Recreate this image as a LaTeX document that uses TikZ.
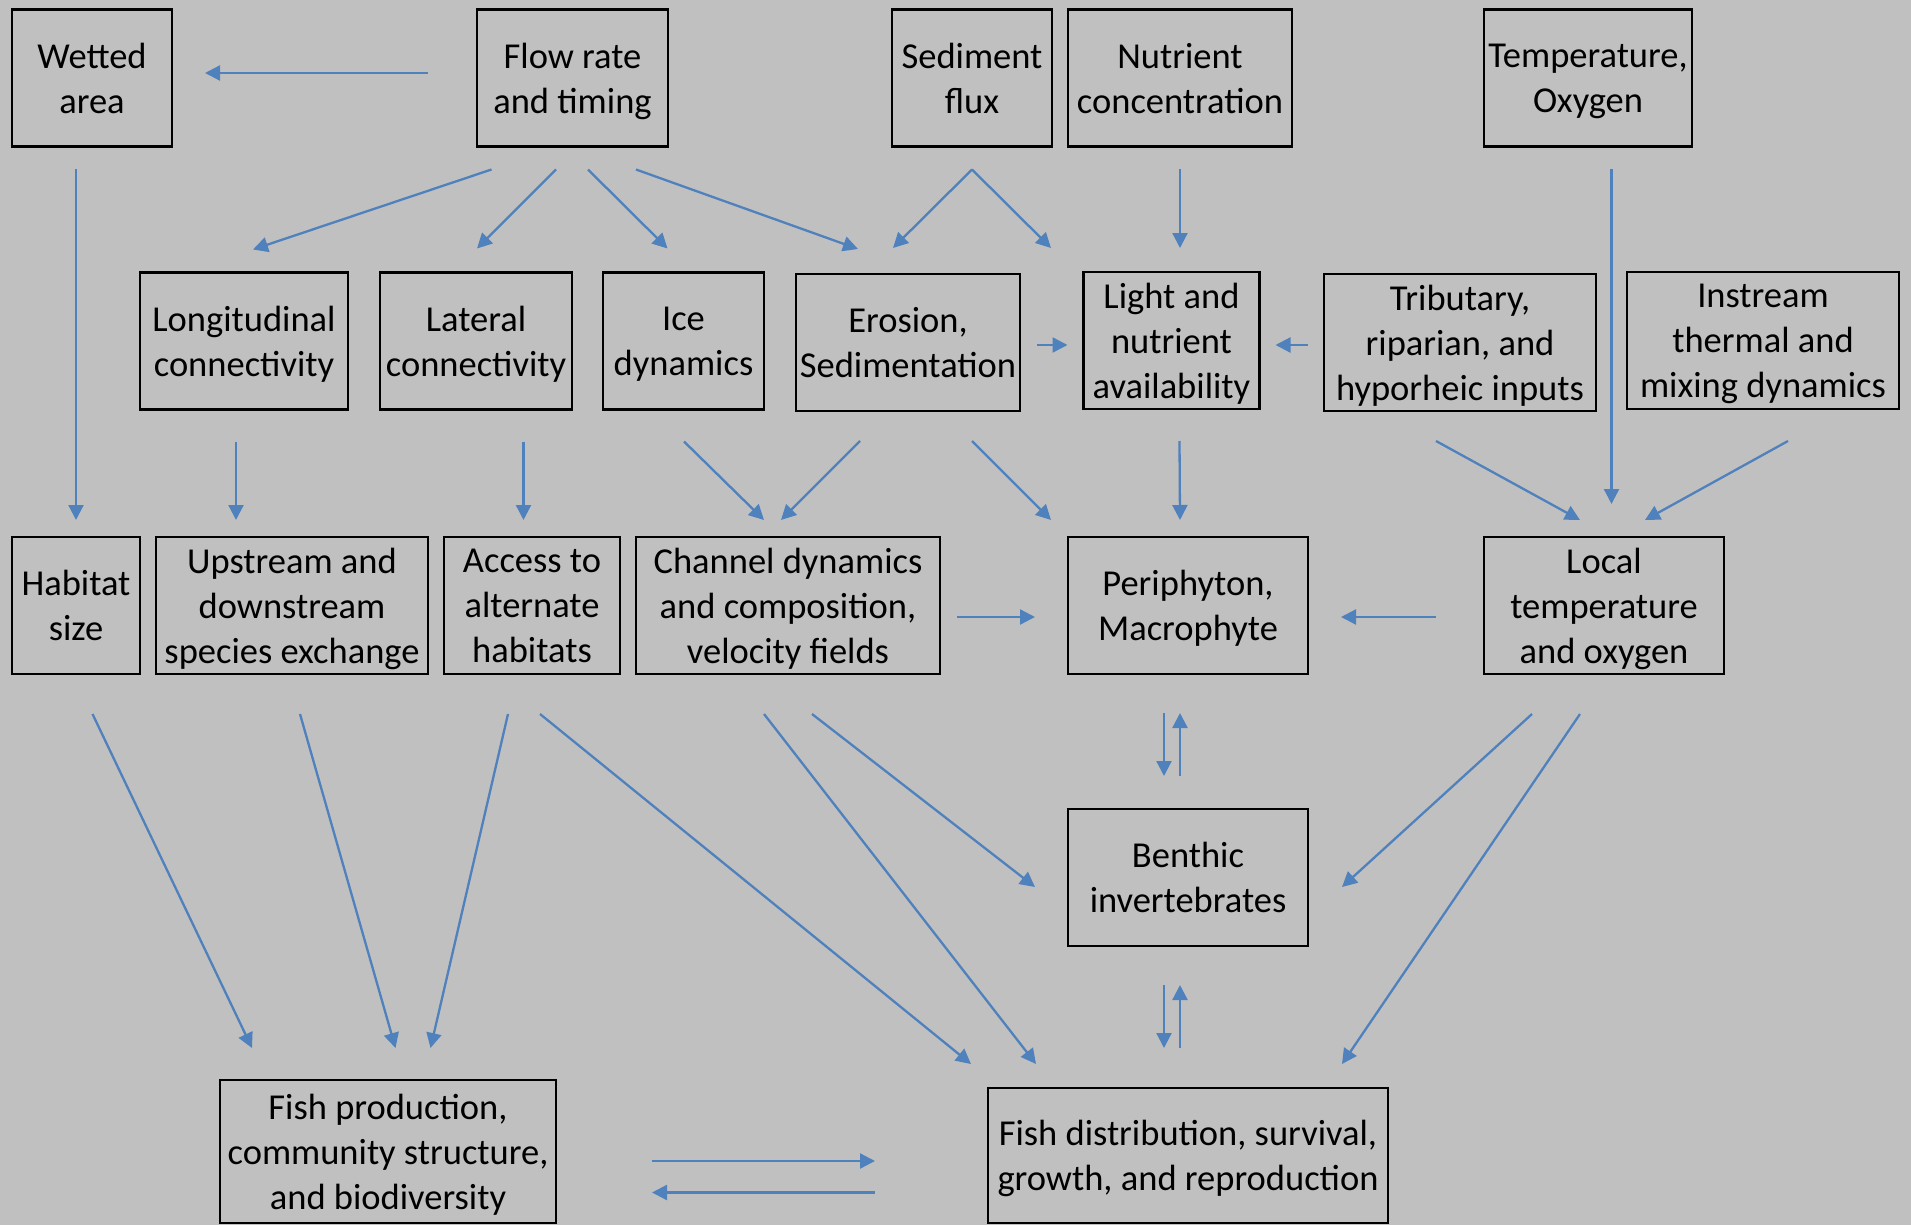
\documentclass[tikz,border=0pt]{standalone}
\usepackage{fontspec}
\setmainfont{Carlito}
\usepackage{xcolor}
\usetikzlibrary{arrows.meta}

\definecolor{bggray}{RGB}{192,192,192}
\definecolor{arrblue}{RGB}{79,129,189}

\begin{document}
\begin{tikzpicture}[x=1pt,y=-1pt,
    box/.style={draw=black,line width=2.5pt,rectangle,inner sep=0pt,outer sep=0pt,
      align=center,text depth=0pt,minimum height=137pt,font=\fontsize{36.5}{45}\selectfont},
    arr/.style={draw=arrblue,line width=2.3pt,-{Triangle[length=15pt,width=15pt]}}]
    % background
    \fill[bggray] (0,0) rectangle (1911,1225);
    \useasboundingbox (0,0) rectangle (1911,1225);

    % Top row
    \node[box,minimum width=160pt] (wetted) at (92,78) {Wetted\\area};
    \node[box,minimum width=191pt] (flow) at (572.5,78) {Flow rate\\and timing};
    \node[box,minimum width=160pt] (sediment) at (972,78) {Sediment\\flux};
    \node[box,minimum width=224pt] (nutrient) at (1180,78) {Nutrient\\concentration};
    \node[box,minimum width=208pt] (tempox) at (1588,78) {Temperature,\\Oxygen};

    % Second row
    \node[box,minimum width=208pt] (longi) at (244,341) {Longitudinal\\connectivity};
    \node[box,minimum width=192pt] (lateral) at (476,341) {Lateral\\connectivity};
    \node[box,minimum width=161pt] (ice) at (683.5,341) {Ice\\dynamics};
    \node[box,minimum width=224pt] (erosion) at (908,342.5) {Erosion,\\Sedimentation};
    \node[box,minimum width=176pt] (light) at (1171.5,340.5) {Light and\\nutrient\\availability};
    \node[box,minimum width=272pt] (trib) at (1460,342.5) {Tributary,\\riparian, and\\hyporheic inputs};
    \node[box,minimum width=272pt] (instream) at (1763,340.5) {Instream\\thermal and\\mixing dynamics};

    % Third row
    \node[box,minimum width=128pt] (habitat) at (76,605.5) {Habitat\\size};
    \node[box,minimum width=272pt] (upstream) at (292,605.5) {Upstream and\\downstream\\species exchange};
    \node[box,minimum width=176pt] (access) at (532,605.5) {Access to\\alternate\\habitats};
    \node[box,minimum width=304pt] (channel) at (788,605.5) {Channel dynamics\\and composition,\\velocity fields};
    \node[box,minimum width=240pt] (periph) at (1188,605.5) {Periphyton,\\Macrophyte};
    \node[box,minimum width=240pt] (local) at (1604,605.5) {Local\\temperature\\and oxygen};

    % Benthos and fish
    \node[box,minimum width=240pt] (benthic) at (1188,877.5) {Benthic\\invertebrates};
    \node[box,minimum width=336pt,minimum height=143pt] (fishprod) at (388,1151.5) {Fish production,\\community structure,\\and biodiversity};
    \node[box,minimum width=400pt,minimum height=135pt] (fishdist) at (1188,1155.5) {Fish distribution, survival,\\growth, and reproduction};

    % From the top row
    \draw[arr] ([shift={(-49,-5)}]flow.west) -- ([shift={(33,-5)}]wetted.east);
    \draw[arr] ([shift={(-16,23)}]wetted.south) -- ([shift={(0,-17)}]habitat.north);
    \draw[arr] ([shift={(-81,23)}]flow.south) -- ([shift={(9,-23)}]longi.north);
    \draw[arr] ([shift={(-16.5,23)}]flow.south) -- ([shift={(1,-24)}]lateral.north);
    \draw[arr] ([shift={(15.5,23)}]flow.south) -- ([shift={(-16,-24)}]ice.north);
    \draw[arr] ([shift={(63.5,23)}]flow.south) -- ([shift={(-50,-25)}]erosion.north);
    \draw[arr] ([shift={(0,23)}]sediment.south) -- ([shift={(-15,-26)}]erosion.north);
    \draw[arr] ([shift={(0,23)}]sediment.south) -- ([shift={(-120.5,-24)}]light.north);
    \draw[arr] ([shift={(0,23)}]nutrient.south) -- ([shift={(8.5,-24)}]light.north);
    \draw[arr] ([shift={(23.5,23)}]tempox.south) -- ([shift={(7.5,-33)}]local.north);

    % Within the second row
    \draw[arr] ([shift={(17,2.5)}]erosion.east) -- ([shift={(-16,4.5)}]light.west);
    \draw[arr] ([shift={(-16,2.5)}]trib.west) -- ([shift={(16,4.5)}]light.east);

    % Second row to third row
    \draw[arr] ([shift={(-8,32)}]longi.south) -- ([shift={(-56,-17)}]upstream.north);
    \draw[arr] ([shift={(47.5,32)}]lateral.south) -- ([shift={(-8.5,-17)}]access.north);
    \draw[arr] ([shift={(0.5,32)}]ice.south) -- ([shift={(-24,-17)}]channel.north);
    \draw[arr] ([shift={(-48,30)}]erosion.south) -- ([shift={(-7,-17)}]channel.north);
    \draw[arr] ([shift={(64,30)}]erosion.south) -- ([shift={(-137,-17)}]periph.north);
    \draw[arr] ([shift={(8,32)}]light.south) -- ([shift={(-8,-17)}]periph.north);
    \draw[arr] ([shift={(-24,30)}]trib.south) -- ([shift={(-24,-17)}]local.north);
    \draw[arr] ([shift={(25,32)}]instream.south) -- ([shift={(41,-17)}]local.north);

    % Within the third row
    \draw[arr] ([shift={(17,11.5)}]channel.east) -- ([shift={(-33,11.5)}]periph.west);
    \draw[arr] ([shift={(-48,11.5)}]local.west) -- ([shift={(33,11.5)}]periph.east);

    % Periphyton, benthos and fish, both ways
    \draw[arr] ([shift={(-24,39)}]periph.south) -- ([shift={(-24,-33)}]benthic.north);
    \draw[arr] ([shift={(-8,-33)}]benthic.north) -- ([shift={(-8,39)}]periph.south);
    \draw[arr] ([shift={(-24,39)}]benthic.south) -- ([shift={(-24,-40)}]fishdist.north);
    \draw[arr] ([shift={(-8,-40)}]fishdist.north) -- ([shift={(-8,39)}]benthic.south);

    % Third row to fish
    \draw[arr] ([shift={(16.5,40)}]habitat.south) -- ([shift={(-136,-32)}]fishprod.north);
    \draw[arr] ([shift={(8,40)}]upstream.south) -- ([shift={(7.5,-32)}]fishprod.north);
    \draw[arr] ([shift={(-24,40)}]access.south) -- ([shift={(42.5,-32)}]fishprod.north);
    \draw[arr] ([shift={(8,40)}]access.south) -- ([shift={(-217,-24)}]fishdist.north);
    \draw[arr] ([shift={(-24,40)}]channel.south) -- ([shift={(-152,-24)}]fishdist.north);
    \draw[arr] ([shift={(24,40)}]channel.south) -- ([shift={(-33,9.5)}]benthic.west);
    \draw[arr] ([shift={(-72,40)}]local.south) -- ([shift={(34,9.5)}]benthic.east);
    \draw[arr] ([shift={(-24,40)}]local.south) -- ([shift={(154,-24)}]fishdist.north);

    % Between the two fish boxes
    \draw[arr] ([shift={(96,9.5)}]fishprod.east) -- ([shift={(-113,5.5)}]fishdist.west);
    \draw[arr] ([shift={(-113,37)}]fishdist.west) -- ([shift={(96,41)}]fishprod.east);
\end{tikzpicture}
\end{document}
